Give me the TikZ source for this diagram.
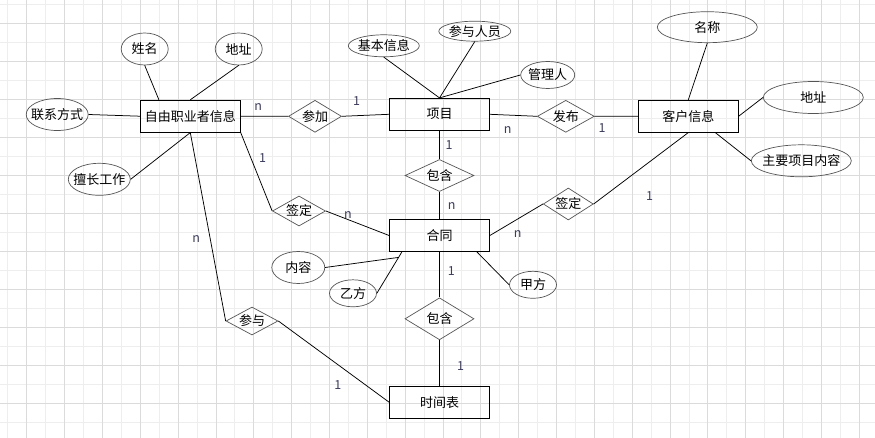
\documentclass[tikz,border=0pt]{standalone}
\usepackage{fontspec}
\newfontfamily\cjk{Noto Sans CJK SC}
\usetikzlibrary{shapes.geometric}
\definecolor{lblcol}{RGB}{60,60,95}
\definecolor{edgecol}{RGB}{85,85,85}

\begin{document}
\begin{tikzpicture}[x=1pt, y=-1pt,
  entity/.style={draw, line width=0.8pt, minimum width=100pt, minimum height=32pt,
                 inner sep=0pt, font=\cjk\fontsize{13}{15}\selectfont},
  rel/.style={diamond, aspect=2, draw=edgecol, line width=0.7pt, inner sep=-4pt,
              font=\cjk\fontsize{13}{15}\selectfont},
  attr/.style={ellipse, draw=edgecol, line width=0.7pt, inner sep=-9pt,
               font=\cjk\fontsize{13}{15}\selectfont},
  card/.style={text=lblcol, inner sep=0pt, font=\cjk\fontsize{12.5}{14}\selectfont},
  link/.style={line width=0.75pt},
  gmin/.style={gray!13, line width=0.8pt},
  gmaj/.style={gray!28, line width=0.8pt}
]
  \useasboundingbox (0,0) rectangle (875,438);
  \fill[white] (0,0) rectangle (875,438);
  \foreach \i in {0,...,45} \draw[gmin] ({7.8+18.92*\i},0) -- ++(0,438);
  \foreach \j in {0,...,22} \draw[gmin] (0,{4.6+18.975*\j}) -- ++(875,0);
  \foreach \i in {0,...,22} \draw[gmaj] ({26.7+37.84*\i},0) -- ++(0,438);
  \foreach \j in {0,...,10} \draw[gmaj] (0,{23.6+37.95*\j}) -- ++(875,0);

  % entities
  \node[entity] (zy)  at (190.3,116.2) {自由职业者信息};
  \node[entity] (xm)  at (439.5,114.3) {项目};
  \node[entity] (kh)  at (688.3,116.2) {客户信息};
  \node[entity] (ht)  at (439.5,235.5) {合同};
  \node[entity] (sjb) at (439.5,402.2) {时间表};

  % relations
  \node[rel, minimum width=53pt, minimum height=32pt] (cj)  at (315,116.3)   {参加};
  \node[rel, minimum width=57pt, minimum height=32pt] (fb)  at (565.8,116.3) {发布};
  \node[rel, minimum width=69pt, minimum height=32pt] (bh1) at (439.5,175.5) {包含};
  \node[rel, minimum width=53pt, minimum height=30pt] (qd1) at (299,211)     {签定};
  \node[rel, minimum width=50pt, minimum height=32pt] (qd2) at (568.3,204)   {签定};
  \node[rel, minimum width=69pt, minimum height=42pt] (bh2) at (439.5,318.8) {包含};
  \node[rel, minimum width=52pt, minimum height=28pt] (cy)  at (252,321)     {参与};

  % attributes
  \node[attr, minimum width=47pt,  minimum height=32pt] (xmz)  at (144.7,49)    {姓名};
  \node[attr, minimum width=47pt,  minimum height=32pt] (dz1)  at (238.7,49)    {地址};
  \node[attr, minimum width=62pt,  minimum height=32pt] (lxfs) at (57.2,114.5)  {联系方式};
  \node[attr, minimum width=62pt,  minimum height=32pt] (scgz) at (99.3,179.3)  {擅长工作};
  \node[attr, minimum width=71pt,  minimum height=22pt] (jbxx) at (383.8,45.8)  {基本信息};
  \node[attr, minimum width=72pt,  minimum height=20pt] (cyry) at (474.8,31.2)  {参与人员};
  \node[attr, minimum width=54pt,  minimum height=27pt] (glr)  at (547.7,75)    {管理人};
  \node[attr, minimum width=100pt, minimum height=31pt] (mc)   at (707.3,27.2)  {名称};
  \node[attr, minimum width=100pt, minimum height=32pt] (dz2)  at (813.3,97.5)  {地址};
  \node[attr, minimum width=100pt, minimum height=32pt] (zyxm) at (801.3,160.8) {主要项目内容};
  \node[attr, minimum width=53pt,  minimum height=32pt] (nr)   at (298.3,267.5) {内容};
  \node[attr, minimum width=47pt,  minimum height=27pt] (yf)   at (353,293.3)   {乙方};
  \node[attr, minimum width=47pt,  minimum height=27pt] (jf)   at (533,284.8)   {甲方};

  % cardinalities
  \node[card] (m1)  at (258.3,107)   {n};
  \node[card] (m2)  at (356.7,101.5) {1};
  \node[card] (m3)  at (262.5,158.3) {1};
  \node[card] (m4)  at (507.8,129.7) {n};
  \node[card] (m5)  at (602.2,128.5) {1};
  \node[card] (m6)  at (449.2,145.3) {1};
  \node[card] (m7)  at (451.7,205.8) {n};
  \node[card] (m8)  at (348,215.5)   {n};
  \node[card] (m9)  at (649.5,195.7) {1};
  \node[card] (m10) at (517.8,234)   {n};
  \node[card] (m11) at (451.3,271)   {1};
  \node[card] (m12) at (460.5,365.8) {1};
  \node[card] (m13) at (196.3,238.8) {n};
  \node[card] (m14) at (337.8,385)   {1};

  \draw[link] (xmz.south) -- ([xshift=19pt]zy.north west);
  \draw[link] (dz1.south) -- (zy.north);
  \draw[link] (lxfs.east) -- (zy.west);
  \draw[link] (scgz.east) -- (zy.south);
  \draw[link] (zy.east) -- (cj.west);
  \draw[link] (cj.east) -- (xm.west);
  \draw[link] (xm.east) -- (fb.west);
  \draw[link] (fb.east) -- (kh.west);
  \draw[link] (jbxx.south) -- (xm.north);
  \draw[link] (cyry.south) -- (xm.north);
  \draw[link] (glr.west) -- (xm.north);
  \draw[link] (mc.south) -- (kh.north);
  \draw[link] (dz2.west) -- (kh.east);
  \draw[link] (zyxm.west) -- ([xshift=27pt]kh.south);
  \draw[link] (xm.south) -- (bh1.north);
  \draw[link] (bh1.south) -- (ht.north);
  \draw[link] (zy.south east) -- (qd1.west);
  \draw[link] (qd1.east) -- (ht.west);
  \draw[link] (ht.east) -- (qd2.west);
  \draw[link] (qd2.east) -- (kh.south);
  \draw[link] (nr.east) -- ([xshift=-41pt,yshift=-5.5pt]ht.south);
  \draw[link] (yf.east) -- ([xshift=-37.6pt]ht.south);
  \draw[link] (jf.west) -- ([xshift=37.4pt]ht.south);
  \draw[link] (ht.south) -- (bh2.north);
  \draw[link] (bh2.south) -- (sjb.north);
  \draw[link] (zy.south) -- (cy.west);
  \draw[link] (cy.east) -- (sjb.west);
\end{tikzpicture}
\end{document}
